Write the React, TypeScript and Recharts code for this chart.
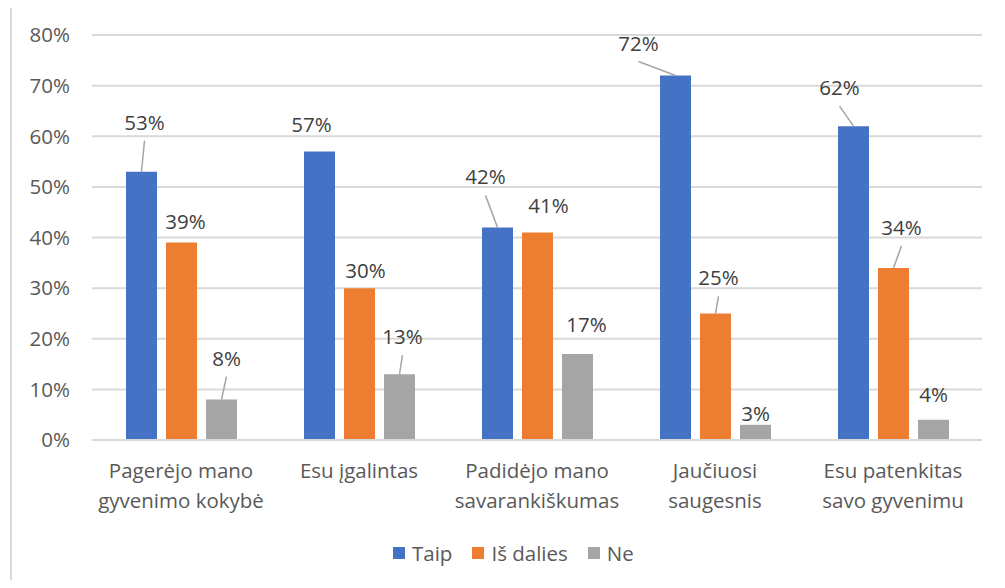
import React from 'react';
import { BarChart, Bar, XAxis, YAxis, CartesianGrid, LabelList } from 'recharts';

const categories = [
  'Pagerėjo mano\ngyvenimo kokybė',
  'Esu įgalintas',
  'Padidėjo mano\nsavarankiškumas',
  'Jaučiuosi\nsaugesnis',
  'Esu patenkitas\nsavo gyvenimu',
];
const taip = [53, 57, 42, 72, 62];
const isDalies = [39, 30, 41, 25, 34];
const ne = [8, 13, 17, 3, 4];
const yTicks = [0, 10, 20, 30, 40, 50, 60, 70, 80];

// where Excel dragged the data labels to (dx, dy from the bar's top centre)
const taipLabelPos = [[3, -42], [-8, -19], [-12, -43], [-37, -25], [-14, -31]];
const isDaliesLabelPos = [[4, -14], [6, -10], [11, -19], [3, -28], [8, -33]];
const neLabelPos = [[5, -34], [3, -30], [9, -22], [0, -4], [0, -18]];
const taipLeader = [true, false, true, true, true];
const isDaliesLeader = [false, false, false, true, true];
const neLeader = [true, true, false, false, false];

const FONT = '"Segoe UI", "Open Sans", sans-serif';
const FS = 20.5;
const COLORS = { taip: '#4472C4', isDalies: '#ED7D31', ne: '#A5A5A5' };

const data = categories.map((name, i) => ({
  name,
  taip: taip[i],
  isDalies: isDalies[i],
  ne: ne[i],
}));

const makeLabel = (pos: number[][], leader: boolean[]) => (props: any) => {
  const { x, y, width, value, index } = props;
  const cx = Number(x) + Number(width) / 2;
  const [dx, dy] = pos[index] || [0, -6];
  const tx = cx + dx;
  const ty = Number(y) + dy;
  return (
    <g>
      {leader[index] && (
        <line x1={tx} y1={ty + 11} x2={cx} y2={Number(y)} stroke="#a6a6a6" strokeWidth={1.5} />
      )}
      <text x={tx} y={ty} textAnchor="middle" fill="#404040" fontSize={FS} fontFamily={FONT}>
        {value}%
      </text>
    </g>
  );
};

const CategoryTick = (props: any) => {
  const { x, y, payload } = props;
  const lines = String(payload.value).split('\n');
  return (
    <g>
      {lines.map((line, i) => (
        <text
          key={i}
          x={x}
          y={y + 30 + i * 30}
          textAnchor="middle"
          fill="#595959"
          fontSize={FS}
          fontFamily={FONT}
        >
          {line}
        </text>
      ))}
    </g>
  );
};

const legendItems = [
  { label: 'Taip', color: COLORS.taip },
  { label: 'Iš dalies', color: COLORS.isDalies },
  { label: 'Ne', color: COLORS.ne },
];

export default function App() {
  return (
    <div style={{ position: 'relative', width: 1005, height: 588, margin: -8, overflow: 'hidden', background: '#fff' }}>
      <div
        style={{
          position: 'absolute',
          left: 10,
          top: 4,
          width: 1010,
          height: 600,
          border: '2px solid #d9d9d9',
        }}
      />
      <div style={{ position: 'absolute', left: 0, top: 0 }}>
        <BarChart
          width={1005}
          height={588}
          data={data}
          margin={{ top: 35, right: 23, left: 0, bottom: 58 }}
          barSize={31}
          barGap={9}
        >
          <CartesianGrid vertical={false} stroke="#d9d9d9" strokeWidth={2} />
          <XAxis
            dataKey="name"
            height={90}
            axisLine={{ stroke: '#d9d9d9', strokeWidth: 2 }}
            tickLine={false}
            interval={0}
            tick={<CategoryTick />}
          />
          <YAxis
            width={92}
            domain={[0, 80]}
            ticks={yTicks}
            axisLine={false}
            tickLine={false}
            tickMargin={16}
            tickFormatter={(v: number) => `${v}%`}
            tick={{ fill: '#595959', fontSize: FS, fontFamily: FONT }}
          />
          <Bar dataKey="taip" fill={COLORS.taip} isAnimationActive={false}>
            <LabelList dataKey="taip" content={makeLabel(taipLabelPos, taipLeader)} />
          </Bar>
          <Bar dataKey="isDalies" fill={COLORS.isDalies} isAnimationActive={false}>
            <LabelList dataKey="isDalies" content={makeLabel(isDaliesLabelPos, isDaliesLeader)} />
          </Bar>
          <Bar dataKey="ne" fill={COLORS.ne} isAnimationActive={false}>
            <LabelList dataKey="ne" content={makeLabel(neLabelPos, neLeader)} />
          </Bar>
        </BarChart>
      </div>
      <div
        style={{
          position: 'absolute',
          left: 393,
          top: 539,
          display: 'flex',
          alignItems: 'center',
          fontFamily: FONT,
          fontSize: FS,
          color: '#595959',
        }}
      >
        {legendItems.map((item) => (
          <div key={item.label} style={{ display: 'flex', alignItems: 'center', marginRight: 20 }}>
            <span style={{ width: 12, height: 12, background: item.color, marginRight: 7, display: 'inline-block' }} />
            <span>{item.label}</span>
          </div>
        ))}
      </div>
    </div>
  );
}
